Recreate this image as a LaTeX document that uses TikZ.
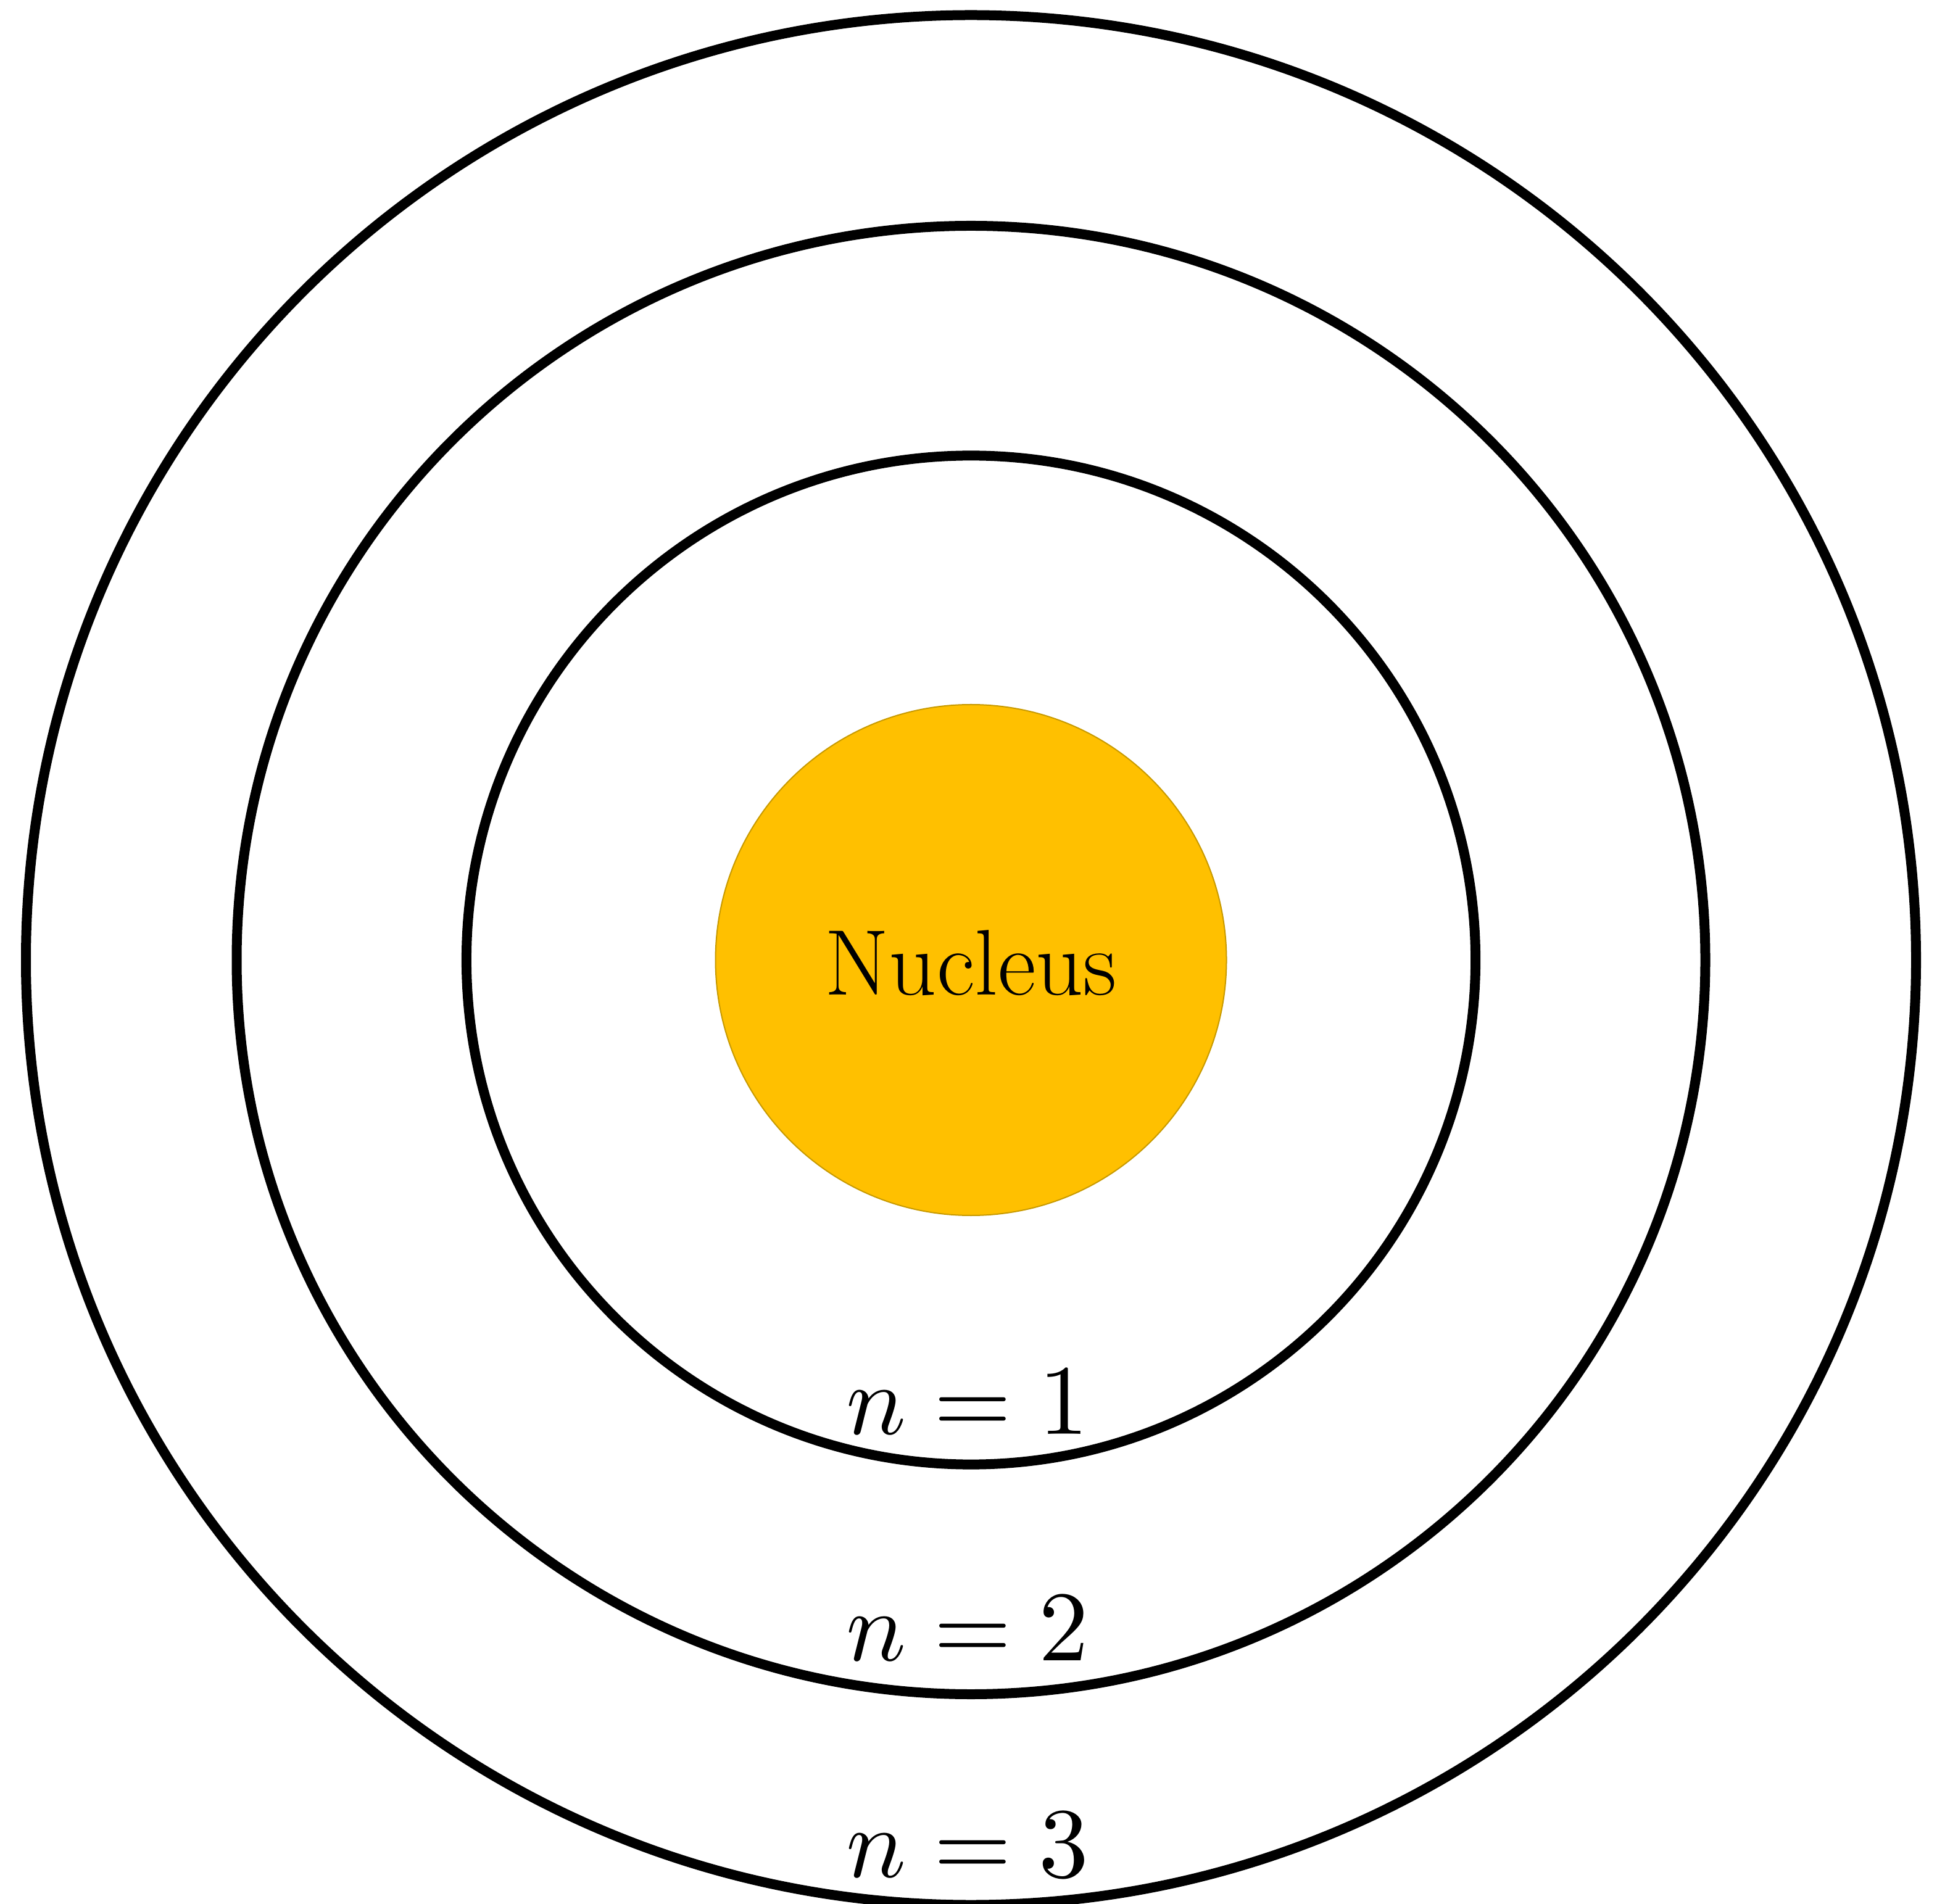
\documentclass[tikz,border=0pt]{standalone}
\usepackage{unicode-math}
\setmathfont{Latin Modern Math}
\definecolor{nucgold}{HTML}{FFC000}
\definecolor{nucedge}{HTML}{C89A00}
\begin{document}
\begin{tikzpicture}[x=1cm,y=1cm,
  orbit/.style={draw=black, line width=0.16cm},
  nucleusbox/.style={circle, fill=nucgold, draw=nucedge, line width=0.02cm, minimum size=8.28cm, inner sep=0pt},
  nuctext/.style={anchor=base, inner sep=0pt, font=\fontsize{43}{51}\selectfont},
  nlabel/.style={anchor=base, inner sep=0pt, font=\fontsize{46}{55}\selectfont}]
\useasboundingbox (0,0) rectangle (31.39,30.85);
\clip (0,0) rectangle (31.39,30.85);
\coordinate (c) at (15.735,15.29);
\draw[orbit] (c) circle[radius=15.315];
\draw[orbit] (c) circle[radius=11.90];
\draw[orbit] (c) circle[radius=8.176];
\node[nucleusbox] (nuc) at (c) {};
\node[nuctext] (nuclabel) at (15.73,14.72) {Nucleus};
\node[nlabel] (n1) at (15.68,7.61) {$n=1$};
\node[nlabel] (n2) at (15.68,3.94) {$n=2$};
\node[nlabel] (n3) at (15.68,0.43) {$n=3$};
\end{tikzpicture}
\end{document}
